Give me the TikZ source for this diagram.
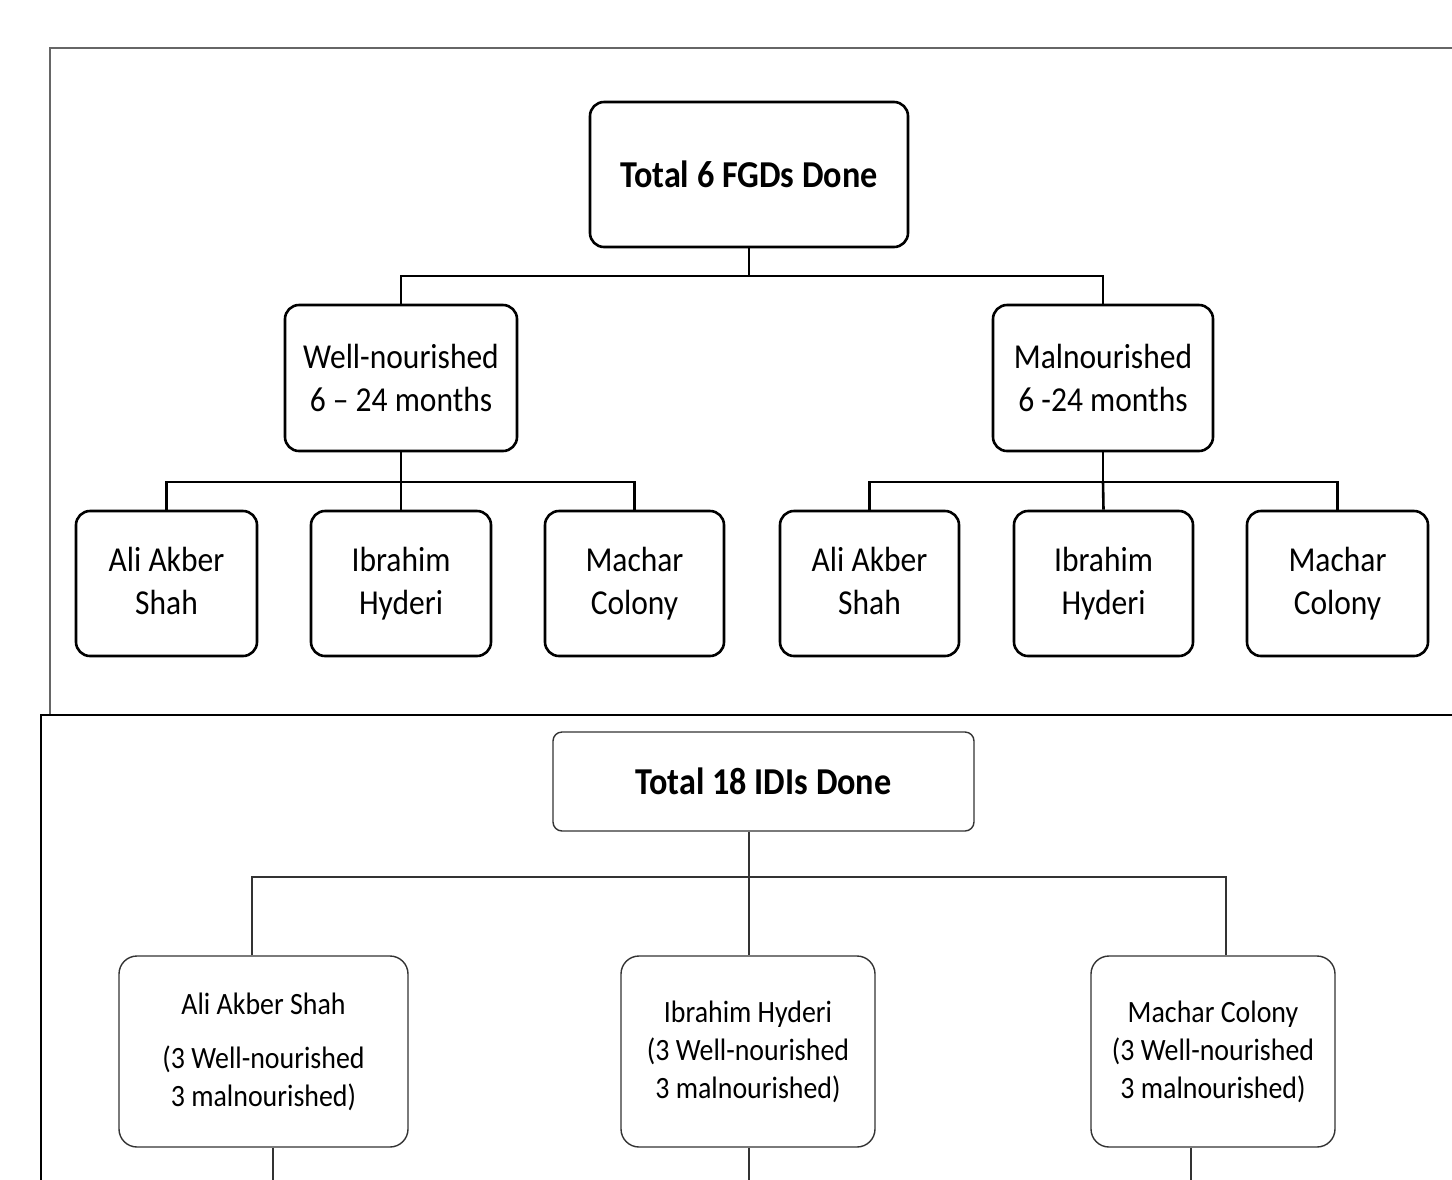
\documentclass[tikz,border=0pt]{standalone}
\usepackage{fontspec}
\setmainfont{Carlito}[FakeStretch=0.9]
\begin{document}
\begin{tikzpicture}[x=1pt,y=-1pt,
  topbox/.style={draw=black, line width=2.6pt, rounded corners=14pt, inner sep=0pt, align=center,
    font=\fontsize{35}{43}\selectfont},
  idibox/.style={draw=black!80, line width=1.4pt, rounded corners=9pt, inner sep=0pt, align=center,
    font=\fontsize{38}{46}\selectfont\bfseries},
  btmbox/.style={draw=black!80, line width=1.4pt, rounded corners=18pt, inner sep=0pt, align=center,
    minimum width=0pt, minimum height=191pt, font=\fontsize{31}{38}\selectfont},
  topline/.style={line width=2.6pt, black},
  btmline/.style={line width=1.4pt, black!80}
]
\useasboundingbox (0,0) rectangle (1452,1179);
\fill[white] (0,0) rectangle (1452,1179);
% frames
\draw[black!60, line width=1.2pt] (50,715) -- (50,48) -- (1470,48);
\draw[black, line width=2pt] (41,1200) -- (41,715) -- (1470,715);

% top tree
\node[topbox, minimum width=318pt, minimum height=145pt, font=\fontsize{38}{46}\selectfont\bfseries]
  (fgd) at (749,174.5) {Total 6 FGDs Done};
\node[topbox, minimum width=232pt, minimum height=146pt] (wn) at (401,378) {Well-nourished\\6 -- 24 months};
\node[topbox, minimum width=220pt, minimum height=146pt] (mn) at (1103,378) {Malnourished\\6 -24 months};

\node[topbox, minimum width=181pt, minimum height=145pt] (l1) at (166.5,583.5) {Ali Akber\\Shah\vphantom{y}};
\node[topbox, minimum width=180pt, minimum height=145pt] (l2) at (401,583.5) {Ibrahim\\Hyderi};
\node[topbox, minimum width=179pt, minimum height=145pt] (l3) at (634.5,583.5) {Machar\\Colony};
\node[topbox, minimum width=179pt, minimum height=145pt] (l4) at (869.5,583.5) {Ali Akber\\Shah\vphantom{y}};
\node[topbox, minimum width=179pt, minimum height=145pt] (l5) at (1103.5,583.5) {Ibrahim\\Hyderi};
\node[topbox, minimum width=181pt, minimum height=145pt] (l6) at (1337.5,583.5) {Machar\\Colony};

\coordinate (j1) at (749,276);
\coordinate (j2) at (401,482);
\coordinate (j3) at (1103,482);
\draw[topline] (fgd.south) -- (j1);
\draw[topline] (wn.north) |- (j1) -| (mn.north);
\draw[topline] (wn.south) -- (j2);
\draw[topline] (l1.north) |- (j2) -| (l3.north);
\draw[topline] (j2) -- (l2.north);
\draw[topline] (mn.south) -- (j3);
\draw[topline] (l4.north) |- (j3) -| (l6.north);
\draw[topline] (j3) -- (l5.north);

% bottom tree
\node[idibox, minimum width=421pt, minimum height=99pt] (idi) at (763.5,781.5) {Total 18 IDIs Done};
\node[btmbox, minimum width=289pt] (b1) at (263.5,1051.5) {Ali Akber Shah\\[16pt](3 Well-nourished\\3 malnourished)};
\node[btmbox, minimum width=254pt] (b2) at (748,1051.5) {Ibrahim Hyderi\\(3 Well-nourished\\3 malnourished)};
\node[btmbox, minimum width=244pt] (b3) at (1213,1051.5) {Machar Colony\\(3 Well-nourished\\3 malnourished)};

\coordinate (k0) at (749,877);
\coordinate (k1) at (252,877);
\coordinate (k3) at (1226,877);
\coordinate (e1) at (273,1190);
\coordinate (e2) at (749,1190);
\coordinate (e3) at (1191,1190);
\draw[btmline] (k0 |- idi.south) -- (k0);
\draw[btmline] (k1 |- b1.north) -- (k1) -- (k3) -- (k3 |- b3.north);
\draw[btmline] (k0) -- (k0 |- b2.north);
\draw[btmline] (e1 |- b1.south) -- (e1);
\draw[btmline] (e2 |- b2.south) -- (e2);
\draw[btmline] (e3 |- b3.south) -- (e3);
\end{tikzpicture}
\end{document}
